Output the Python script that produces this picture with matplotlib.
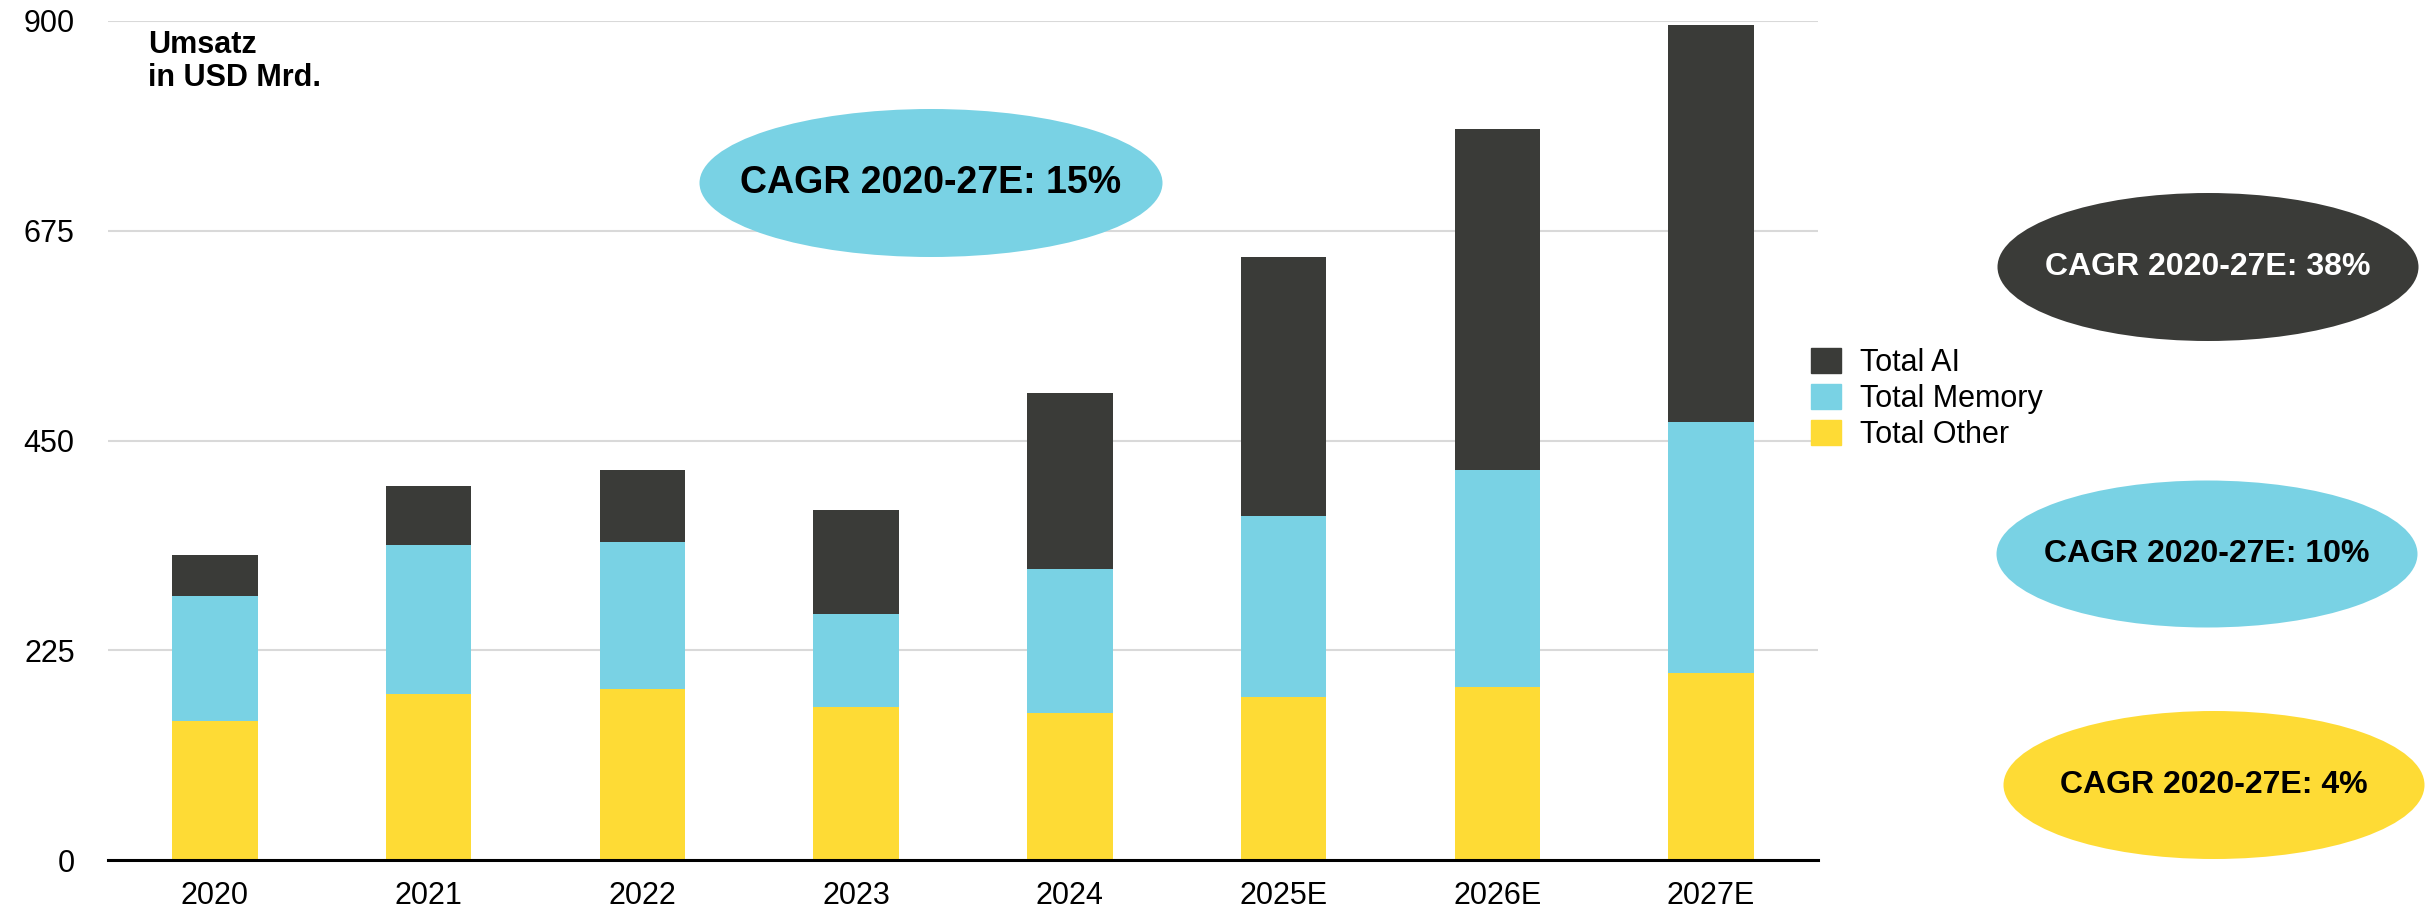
import numpy as np
import matplotlib
matplotlib.use("Agg")
import matplotlib.pyplot as plt
from matplotlib.patches import Ellipse, Patch

plt.rcParams["font.family"] = ["Liberation Sans", "DejaVu Sans"]

# ── data (USD bn) ─────────────────────────────────────────────────────────
years     = ["2020", "2021", "2022", "2023", "2024", "2025E", "2026E", "2027E"]
other     = [149, 178, 183, 164, 158, 175, 186, 201]
memory    = [134, 160, 158, 100, 154, 194, 232, 269]
ai        = [44, 63, 77, 111, 189, 278, 366, 426]
yticks    = [0, 225, 450, 675, 900]

cagr_labels = ["CAGR 2020-27E: 15%", "CAGR 2020-27E: 38%",
               "CAGR 2020-27E: 10%", "CAGR 2020-27E: 4%"]

c_ai, c_mem, c_oth = "#3a3b38", "#79d2e4", "#fedb35"

W, H = 2434, 908
fig = plt.figure(figsize=(W / 100, H / 100), dpi=100)
ax = fig.add_axes([108 / W, 1 - 860 / H, (1818 - 108) / W, (860 - 21) / H])

x = np.arange(len(years))
other_a, mem_a, ai_a = np.array(other), np.array(memory), np.array(ai)
ax.bar(x, other_a, 0.4, color=c_oth, zorder=2)
ax.bar(x, mem_a, 0.4, bottom=other_a, color=c_mem, zorder=2)
ax.bar(x, ai_a, 0.4, bottom=other_a + mem_a, color=c_ai, zorder=2)

ax.set_xlim(-0.5, 7.5)
ax.set_ylim(0, 900)
ax.set_yticks(yticks)
ax.set_yticklabels([str(v) for v in yticks])
ax.set_xticks(x)
ax.set_xticklabels(years)
ax.tick_params(axis="y", length=0, pad=24, labelsize=22)
ax.tick_params(axis="x", length=0, pad=15, labelsize=22)
for s in ax.spines.values():
    s.set_visible(False)
ax.grid(axis="y", color="#d9d9d9", lw=1.5, zorder=0)
ax.set_axisbelow(True)
ax.axhline(0, color="black", lw=2.2, zorder=3, clip_on=False)

fig.text(148 / W, 1 - 30 / H, "Umsatz\nin USD Mrd.", fontsize=22,
         fontweight="bold", va="top", ha="left", linespacing=1.15)

# legend
handles = [Patch(color=c_ai), Patch(color=c_mem), Patch(color=c_oth)]
fig.legend(handles, ["Total AI", "Total Memory", "Total Other"],
           loc="upper left", bbox_to_anchor=(1811 / W, 1 - 348 / H),
           frameon=False, fontsize=22, borderpad=0, borderaxespad=0,
           handlelength=0.98, handleheight=0.88, handletextpad=0.62,
           labelspacing=0.2)

# CAGR ellipses (figure pixels: centre x, centre y, width, height)
ell = [
    (931, 183, 463, 148, c_mem, "black", 27),
    (2208, 267, 421, 148, c_ai, "white", 23),
    (2207, 554, 421, 147, c_mem, "black", 23),
    (2214, 785, 421, 148, c_oth, "black", 23),
]
for (cx, cy, ew, eh, fc, tc, fs), lab in zip(ell, cagr_labels):
    fig.patches.append(Ellipse((cx / W, 1 - cy / H), ew / W, eh / H,
                               transform=fig.transFigure, facecolor=fc,
                               edgecolor="none", zorder=5))
    fig.text(cx / W, 1 - cy / H, lab, color=tc, fontsize=fs,
             fontweight="bold", ha="center", va="center", zorder=6)

fig.savefig("out.png", dpi=100)
